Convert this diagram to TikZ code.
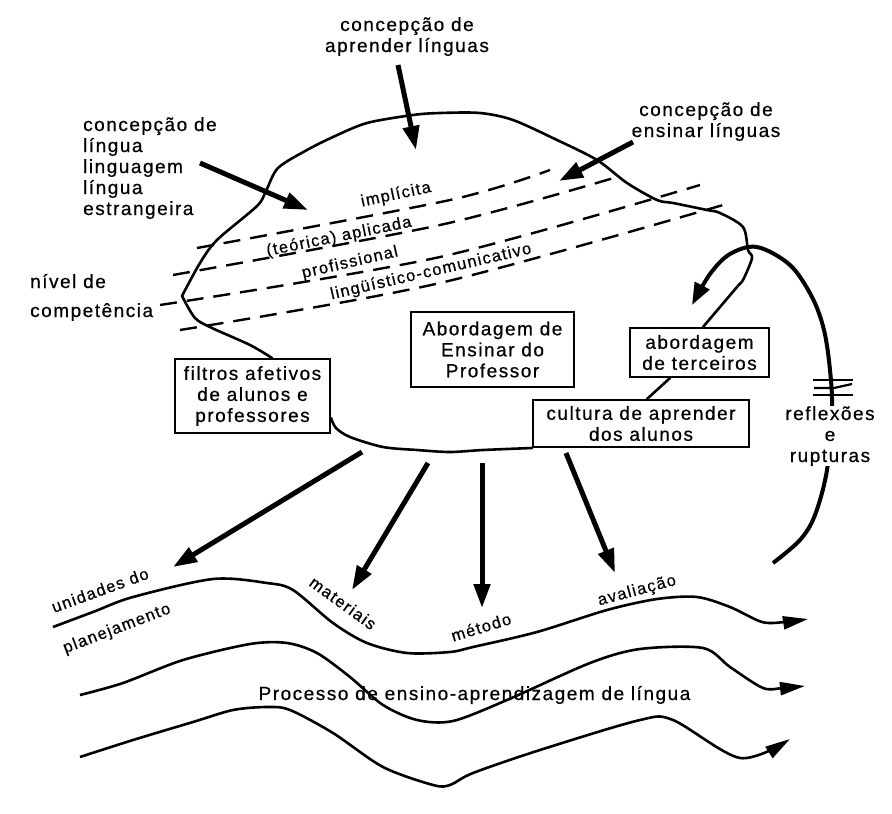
\documentclass[tikz,border=0pt]{standalone}
\usepackage{fontspec}
\setmainfont{Liberation Sans}[LetterSpace=8.0,FakeBold=0.6]
\usetikzlibrary{arrows.meta}
\begin{document}
\begin{tikzpicture}[x=1pt,y=-1pt,
  mainf/.style={font=\fontsize{19}{21}\selectfont},
  lblf/.style={font=\fontsize{16.5}{19}\selectfont},
  txt/.style={mainf, inner sep=0pt},
  box/.style={draw, line width=2pt, mainf, align=center, inner sep=0pt},
  blob/.style={line width=2.6pt, line join=round, line cap=round},
  dline/.style={line width=2.4pt, dash pattern=on 17pt off 10pt},
  bigarrow/.style={line width=5pt, -{Triangle[length=24pt,width=16pt]}},
  wave/.style={line width=2.6pt, line join=round, -{Triangle[length=25pt,width=13pt]}},
  lbl/.style={lblf, inner sep=0pt},
  hatch/.style={line width=2.2pt},
]
\fill[white] (0,0) rectangle (892,814);
\useasboundingbox (0,0) rectangle (892,814);

% boxes
\node[box, minimum width=155pt, minimum height=74pt] (filt) at (252.5,396) {filtros afetivos\\de alunos e\\professores};
\node[box, minimum width=163pt, minimum height=75pt] (abord) at (492.5,349.5) {Abordagem de\\Ensinar do\\Professor};
\node[box, minimum width=139pt, minimum height=49pt] (terc) at (699.5,352.5) {abordagem\\de terceiros};
\node[box, minimum width=216pt, minimum height=47pt] (cult) at (641,423.5) {cultura de aprender\\dos alunos};

% blob outline
\draw[blob] plot[smooth, tension=0.5] coordinates {([xshift=19.5pt]filt.north) (250,345) (212,328) (195,318) (182,296)};
\draw[blob] plot[smooth, tension=0.5] coordinates {(182,296) (200,263) (217,240) (257,206) (266,191) (278,168) (307,150) (333,137) (367,123) (413,115) (440,113) (480,113) (513,120) (557,140) (597,160) (627,183) (657,200) (673,203) (707,210) (720,213) (743,227) (748,250) (752,258) (743,280) (737,287) ([xshift=3.5pt]terc.north)};
\draw[blob] ([xshift=-29.5pt]terc.south) -- ([xshift=6pt]cult.north);
\draw[blob] plot[smooth, tension=0.5] coordinates {(cult.south west) (483,450) (450,452) (417,450) (383,447) (350,437) (336,428) ([yshift=-22pt]filt.east)};

% dashed levels
\draw[dline] plot[smooth] coordinates {(197,248) (450,200) (550,170)};
\draw[dline] plot[smooth] coordinates {(173,275) (440,225) (617,177)};
\draw[dline] plot[smooth] coordinates {(160,305) (440,257) (700,185)};
\draw[dline] plot[smooth] coordinates {(180,330) (440,283) (730,203)};

% level labels
\node[lbl, rotate=12] (impl) at (396,195) {implícita};
\node[lbl, rotate=11.5] (teor) at (339,237) {(teórica) aplicada};
\node[lbl, rotate=13] (prof) at (350,263) {profissional};
\node[lbl, rotate=13] (ling) at (431,272) {lingüístico-comunicativo};

% texts (base anchor = baseline of last line)
\node[txt, align=center, anchor=base] (cAprender) at (407,52) {concepção de\\aprender línguas};
\node[txt, align=left, anchor=base west] (cLingua) at (83,215) {concepção de\\língua\\linguagem\\língua\\estrangeira};
\node[txt, align=center, anchor=base] (cEnsinar) at (706,137) {concepção de\\ensinar línguas};
\node[txt, align=left, anchor=base west] (nivel) at (30,317) {nível de\\[8pt]competência};

% thick arrows
\coordinate (a1s) at (398,65);  \coordinate (a1e) at (416,150);
\coordinate (a2s) at (200,163); \coordinate (a2e) at (308,210);
\coordinate (a3s) at (633,142); \coordinate (a3e) at (559,181);
\coordinate (a4s) at (362,452); \coordinate (a4e) at (173,567);
\coordinate (a5s) at (428,463); \coordinate (a5e) at (352,590);
\coordinate (a6s) at (482,463); \coordinate (a6e) at (482,608);
\coordinate (a7s) at (566,453); \coordinate (a7e) at (615,573);
\draw[bigarrow] (a1s) -- (a1e);
\draw[bigarrow] (a2s) -- (a2e);
\draw[bigarrow] (a3s) -- (a3e);
\draw[bigarrow] (a4s) -- (a4e);
\draw[bigarrow] (a5s) -- (a5e);
\draw[bigarrow] (a6s) -- (a6e);
\draw[bigarrow] (a7s) -- (a7e);

% reflection arc
\draw[line width=4pt, -{Triangle[length=22pt,width=16pt]}] plot[smooth, tension=0.55] coordinates {(773,563) (800,540) (815,515) (827,470) (832,410) (830,370) (824,330) (812,297) (790,265) (757,247) (730,254) (710,274) (692,305)};
\node[txt, align=center, anchor=base, fill=white, inner sep=0.5pt] (refl) at (830,462) {reflexões\\e\\rupturas};
\draw[hatch] (813,380) -- (853,380);
\draw[hatch] (814,388) -- (834,388) -- (852,384);
\draw[hatch] (813,395) -- (853,395);

% waves
\draw[wave] plot[smooth, tension=0.5] coordinates {(53,627) (93,612) (133,597) (213,579) (267,583) (293,590) (333,623) (367,643) (407,653) (450,652) (473,647) (537,632) (607,610) (657,599) (697,597) (730,607) (762,622) (785,622) (808,619)};
\draw[wave] plot[smooth, tension=0.5] coordinates {(80,695) (123,683) (183,660) (250,644) (287,643) (317,653) (350,677) (383,705) (417,720) (453,721) (507,700) (590,663) (640,649) (703,648) (730,667) (763,688) (783,688) (805,686)};
\draw[wave] plot[smooth, tension=0.5] coordinates {(80,757) (133,740) (193,722) (233,710) (267,707) (290,710) (333,733) (383,767) (433,785) (450,785) (473,773) (540,750) (640,720) (673,720) (740,758) (790,739)};

% wave labels
\node[lbl, rotate=20] (unid) at (100,590) {unidades do};
\node[lbl, rotate=21] (plan) at (117,629) {planejamento};
\node[lbl, rotate=-36] (mat) at (343,603) {materiais};
\node[lbl, rotate=17] (met) at (481,627) {método};
\node[lbl, rotate=15] (aval) at (637,591) {avaliação};
\node[txt, anchor=base] (proc) at (474.5,700) {Processo de ensino-aprendizagem de língua};
\end{tikzpicture}
\end{document}
